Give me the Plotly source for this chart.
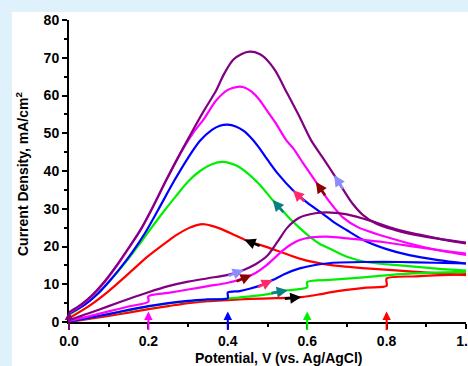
import numpy as np
import plotly.graph_objects as go

# ---------------- data ----------------
hold_potentials = [0.0, 0.2, 0.4, 0.6, 0.8]

purple_fwd_x = [0, 0.05, 0.1, 0.15, 0.2, 0.25, 0.3, 0.35, 0.4, 0.44, 0.47, 0.5, 0.525, 0.55, 0.58, 0.62, 0.66, 0.7, 0.76, 0.82, 0.88, 0.94, 1.0]
purple_fwd_y = [0.5, 2.3, 4.2, 6.1, 7.9, 9.5, 10.7, 11.6, 12.5, 13.8, 15.3, 17.6, 21.2, 25.0, 27.6, 28.8, 29.0, 28.5, 26.8, 24.7, 23.2, 21.9, 20.8]
purple_bwd_x = [1.0, 0.92, 0.857, 0.82, 0.773, 0.74, 0.714, 0.69, 0.668, 0.64, 0.61, 0.58, 0.55, 0.52, 0.5, 0.48, 0.455, 0.435, 0.413, 0.39, 0.371, 0.34, 0.312, 0.28, 0.245, 0.207, 0.18, 0.15, 0.12, 0.09, 0.06, 0.03, 0.0]
purple_bwd_y = [21.0, 22.2, 23.4, 24.4, 26.1, 28.4, 31.4, 35.2, 38.9, 43.4, 48.1, 54.5, 60.5, 66.5, 69.3, 71.0, 71.6, 71.0, 69.4, 65.6, 61.4, 56.0, 50.8, 44.6, 37.6, 29.6, 24.4, 19.6, 15.0, 10.8, 7.3, 4.6, 2.6]

magenta_fwd_x = [0, 0.05, 0.1, 0.15, 0.2, 0.2, 0.25, 0.3, 0.35, 0.4, 0.438, 0.47, 0.497, 0.52, 0.539, 0.56, 0.581, 0.61, 0.65, 0.706, 0.79, 0.874, 0.94, 1.0]
magenta_fwd_y = [0.3, 1.5, 2.8, 4.1, 5.4, 6.8, 7.7, 8.6, 9.5, 10.4, 11.5, 13.0, 15.0, 17.2, 19.0, 20.6, 21.7, 22.4, 22.6, 22.1, 21.2, 19.9, 18.9, 18.1]
magenta_bwd_x = [1.0, 0.94, 0.857, 0.8, 0.773, 0.73, 0.689, 0.655, 0.622, 0.59, 0.565, 0.547, 0.52, 0.5, 0.48, 0.46, 0.44, 0.425, 0.4, 0.37, 0.34, 0.312, 0.28, 0.245, 0.207, 0.18, 0.15, 0.12, 0.09, 0.06, 0.03, 0.0]
magenta_bwd_y = [17.8, 18.8, 20.8, 22.5, 23.4, 25.0, 27.8, 32.0, 37.1, 42.0, 46.0, 48.2, 52.8, 55.8, 58.8, 61.0, 62.2, 62.3, 61.5, 58.6, 53.8, 50.0, 44.6, 37.6, 29.6, 24.3, 19.5, 14.8, 10.6, 7.1, 4.4, 2.4]

blue_fwd_x = [0, 0.05, 0.1, 0.15, 0.2, 0.25, 0.3, 0.35, 0.4, 0.4, 0.43, 0.455, 0.485, 0.513, 0.545, 0.581, 0.62, 0.665, 0.749, 0.833, 0.92, 1.0]
blue_fwd_y = [0.1, 1.1, 2.1, 3.2, 4.2, 5.0, 5.6, 6.0, 6.3, 7.8, 8.2, 8.8, 9.8, 11.1, 12.8, 14.2, 15.1, 15.7, 15.9, 15.9, 15.7, 15.5]
blue_bwd_x = [1.0, 0.93, 0.857, 0.8, 0.74, 0.7, 0.665, 0.64, 0.6, 0.564, 0.526, 0.5, 0.48, 0.46, 0.44, 0.42, 0.4, 0.38, 0.36, 0.33, 0.3, 0.266, 0.224, 0.19, 0.16, 0.13, 0.1, 0.07, 0.04, 0.0]
blue_bwd_y = [15.5, 16.4, 17.7, 19.3, 21.8, 24.3, 26.6, 28.6, 31.6, 34.9, 39.3, 43.0, 46.0, 48.6, 50.6, 51.8, 52.3, 52.0, 50.9, 48.0, 43.5, 37.6, 29.6, 23.3, 18.6, 14.4, 10.6, 7.2, 4.6, 2.2]

green_fwd_x = [0, 0.05, 0.1, 0.15, 0.2, 0.25, 0.3, 0.35, 0.4, 0.45, 0.497, 0.551, 0.6, 0.6, 0.665, 0.749, 0.833, 0.92, 1.0]
green_fwd_y = [0.1, 1.1, 2.1, 3.1, 4.1, 4.9, 5.5, 5.9, 6.2, 6.7, 7.3, 8.4, 9.2, 10.6, 11.2, 11.9, 12.7, 13.1, 13.3]
green_bwd_x = [1.0, 0.92, 0.833, 0.749, 0.7, 0.665, 0.63, 0.606, 0.58, 0.556, 0.535, 0.513, 0.48, 0.45, 0.42, 0.387, 0.36, 0.33, 0.3, 0.27, 0.241, 0.21, 0.18, 0.15, 0.12, 0.09, 0.06, 0.03, 0.0]
green_bwd_y = [13.6, 14.2, 15.0, 15.9, 17.3, 19.0, 20.8, 22.6, 25.0, 27.4, 29.8, 32.3, 36.4, 39.4, 41.5, 42.4, 41.8, 40.0, 37.2, 33.4, 29.6, 25.3, 21.0, 16.8, 13.0, 9.4, 6.4, 3.9, 1.9]

red_fwd_x = [0, 0.05, 0.1, 0.15, 0.2, 0.25, 0.3, 0.35, 0.4, 0.455, 0.52, 0.585, 0.63, 0.665, 0.749, 0.8, 0.8, 0.875, 1.0]
red_fwd_y = [0.0, 0.8, 1.6, 2.5, 3.4, 4.2, 5.0, 5.5, 5.8, 6.1, 6.3, 6.6, 7.3, 8.0, 9.1, 9.6, 11.5, 12.1, 12.7]
red_bwd_x = [1.0, 0.875, 0.749, 0.665, 0.62, 0.581, 0.54, 0.497, 0.47, 0.442, 0.41, 0.379, 0.355, 0.34, 0.32, 0.3, 0.27, 0.25, 0.2, 0.15, 0.1, 0.05, 0.0]
red_bwd_y = [12.4, 13.3, 14.2, 15.0, 15.8, 16.8, 18.3, 19.9, 20.8, 21.8, 23.4, 24.8, 25.6, 25.9, 25.6, 24.8, 23.0, 21.5, 17.5, 12.8, 8.2, 4.2, 1.0]

# arrow positions on the curves (x values)
fwd_arrow_x = [0.44, 0.46, 0.513, 0.551, 0.585]      # purple, magenta, blue, green, red
bwd_arrow_x = [0.668, 0.622, 0.564, 0.513, 0.442]    # purple, magenta, blue, green, red

x_ticks = [0.0, 0.2, 0.4, 0.6, 0.8, 1.0]
x_title = "Potential, V (vs. Ag/AgCl)"
y_title = "Current Density, mA/cm<sup>2</sup>"

# ---------------- styling ----------------
curve_colors = ["#800080", "#ff00ff", "#0000ff", "#00ee00", "#ff0000"]
arrow_colors = ["#8c8cff", "#8b0000", "#ff2a6d", "#0b8080", "#000000"]

curves = [
    (purple_fwd_x, purple_fwd_y, purple_bwd_x, purple_bwd_y),
    (magenta_fwd_x, magenta_fwd_y, magenta_bwd_x, magenta_bwd_y),
    (blue_fwd_x, blue_fwd_y, blue_bwd_x, blue_bwd_y),
    (green_fwd_x, green_fwd_y, green_bwd_x, green_bwd_y),
    (red_fwd_x, red_fwd_y, red_bwd_x, red_bwd_y),
]

W, H = 468, 366
ML, MR, MT, MB = 69, 2, 20, 44
PW, PH = W - ML - MR, H - MT - MB
XR, YR = [0, 1.0], [0, 80]
sx = PW / (XR[1] - XR[0])
sy = PH / (YR[1] - YR[0])

fig = go.Figure()
for i in reversed(range(5)):
    fx, fy, bx, by = curves[i]
    for xs, ys in ((fx, fy), (bx, by)):
        fig.add_trace(go.Scatter(x=xs, y=ys, mode="lines",
                                 line=dict(color=curve_colors[i], width=2.2, shape="spline", smoothing=0.8),
                                 showlegend=False, hoverinfo="skip"))

annotations = []


def interp(xs, ys, x):
    xs = np.asarray(xs, float)
    ys = np.asarray(ys, float)
    if xs[0] > xs[-1]:
        xs, ys = xs[::-1], ys[::-1]
    return float(np.interp(x, xs, ys))


L = 18
for i in range(5):
    fx, fy, bx, by = curves[i]
    for xs, ys, x0, sign in ((fx, fy, fwd_arrow_x[i], 1), (bx, by, bwd_arrow_x[i], -1)):
        y0 = interp(xs, ys, x0)
        slope = (interp(xs, ys, x0 + 0.01) - interp(xs, ys, x0 - 0.01)) / 0.02
        dx, dy = sign * sx, -sign * sy * slope
        n = np.hypot(dx, dy)
        dx, dy = dx / n, dy / n
        annotations.append(dict(x=x0, y=y0, xref="x", yref="y", text="", showarrow=True,
                                ax=-L * dx, ay=-L * dy, arrowhead=2, arrowsize=0.85,
                                arrowwidth=2.6, arrowcolor=arrow_colors[i], standoff=0))

for i, hp in enumerate(hold_potentials):
    annotations.append(dict(x=hp, y=2.8, xref="x", yref="y", text="", showarrow=True,
                            ax=0, ay=20, arrowhead=2, arrowsize=0.85, arrowwidth=2,
                            arrowcolor=curve_colors[i], standoff=0))

font_family = "Liberation Sans, Arial, sans-serif"
title_font = dict(family=font_family, size=14, color="black", weight="bold")
annotations.append(dict(text=x_title, xref="paper", yref="paper", showarrow=False,
                        x=(279 - ML) / PW, y=(H - MB - 358) / PH, xanchor="center", yanchor="middle",
                        font=title_font))
annotations.append(dict(text=y_title, xref="paper", yref="paper", showarrow=False, textangle=-90,
                        x=(22 - ML) / PW, y=(H - MB - 174) / PH, xanchor="center", yanchor="middle",
                        font=title_font))

axis_common = dict(showline=True, linecolor="black", linewidth=2, ticks="outside",
                   ticklen=5, tickwidth=1.5, tickcolor="black", showgrid=False, zeroline=False,
                   ticklabeloverflow="allow", automargin=False,
                   tickfont=dict(family=font_family, size=14, color="black", weight="bold"))

fig.update_layout(
    width=W, height=H,
    margin=dict(l=ML, r=MR, t=MT, b=MB, pad=0, autoexpand=False),
    paper_bgcolor="#dff1fa", plot_bgcolor="white",
    xaxis=dict(range=XR, tickvals=x_ticks, tickformat=".1f",
               minor=dict(ticks="outside", dtick=0.1, ticklen=3, tickwidth=1.5, tickcolor="black"),
               **axis_common),
    yaxis=dict(range=YR, dtick=10,
               minor=dict(ticks="outside", dtick=5, ticklen=3, tickwidth=1.5, tickcolor="black"),
               **axis_common),
    annotations=annotations,
    shapes=[dict(type="rect", xref="paper", yref="paper", layer="below",
                 x0=(12 - ML) / PW, x1=1.5, y0=-0.5, y1=(H - MB - 12) / PH,
                 fillcolor="white", line=dict(width=0))],
)

fig.write_html("out.html")
